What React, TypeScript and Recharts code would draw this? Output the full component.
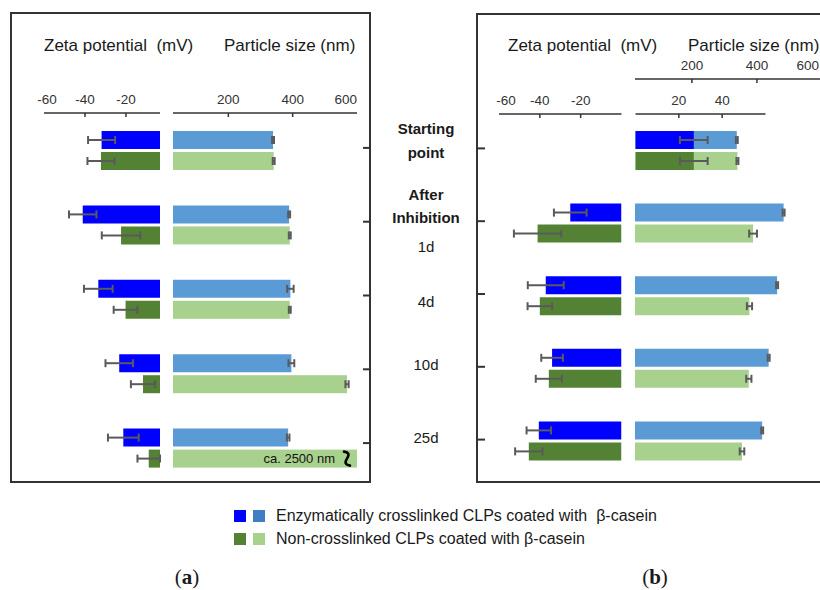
import React from "react";
import { BarChart, Bar, XAxis, YAxis, ErrorBar } from "recharts";

// ---------- data ----------
const categories = ["Starting point", "After Inhibition 1d", "4d", "10d", "25d"];

// Panel (a)
const zetaEnzA = [-31.9, -41.1, -33.5, -23.3, -21.3];
const zetaEnzErrA = [6.6, 6.7, 7.0, 6.7, 7.5];
const zetaNonA = [-32.2, -22.4, -20.2, -11.7, -8.9];
const zetaNonErrA = [6.6, 9.4, 5.8, 5.9, 5.5];
const sizeEnzA = [339, 389, 393, 396, 386];
const sizeEnzErrA = [3, 3, 10, 9, 4];
const sizeNonA = [341, 391, 391, 569, 2500];
const sizeNonErrA = [3, 3, 3, 5, 0];

// Panel (b)
const zetaEnzB = [26.9, -25.1, -37.1, -34.0, -40.5];
const zetaEnzErrB = [6.4, 8.0, 8.8, 5.3, 6.0];
const zetaNonB = [26.9, -41.1, -40.0, -35.6, -45.4];
const zetaNonErrB = [6.4, 11.6, 6.0, 6.4, 6.7];
const sizeEnzB = [338, 482, 462, 436, 416];
const sizeEnzErrB = [3, 3, 3, 3, 3];
const sizeNonB = [340, 388, 377, 375, 354];
const sizeNonErrB = [3, 12, 8, 8, 7];

const zetaTicksNeg = [-60, -40, -20];
const zetaTicksPos = [20, 40];
const sizeTicks = [200, 400, 600];

const legendItems = [
  "Enzymatically crosslinked CLPs coated with  \u03b2-casein",
  "Non-crosslinked CLPs coated with \u03b2-casein",
];

// ---------- tables ----------
const rowsA = categories.map((cat, i) => ({
  cat,
  zEnz: zetaEnzA[i],
  zEnzErr: zetaEnzErrA[i],
  zNon: zetaNonA[i],
  zNonErr: zetaNonErrA[i],
  sEnz: sizeEnzA[i],
  sEnzErr: sizeEnzErrA[i],
  sNon: sizeNonA[i],
  sNonErr: sizeNonErrA[i],
}));

const rowsB = categories.map((cat, i) => ({
  cat,
  zEnzNeg: zetaEnzB[i] < 0 ? zetaEnzB[i] : null,
  zEnzNegErr: zetaEnzB[i] < 0 ? zetaEnzErrB[i] : null,
  zNonNeg: zetaNonB[i] < 0 ? zetaNonB[i] : null,
  zNonNegErr: zetaNonB[i] < 0 ? zetaNonErrB[i] : null,
  zEnzPos: zetaEnzB[i] > 0 ? zetaEnzB[i] : null,
  zEnzPosErr: zetaEnzB[i] > 0 ? zetaEnzErrB[i] : null,
  zNonPos: zetaNonB[i] > 0 ? zetaNonB[i] : null,
  zNonPosErr: zetaNonB[i] > 0 ? zetaNonErrB[i] : null,
  sEnz: sizeEnzB[i],
  sEnzErr: sizeEnzErrB[i],
  sNon: sizeNonB[i],
  sNonErr: sizeNonErrB[i],
}));

// ---------- styles ----------
const FONT = "'Liberation Sans', Arial, sans-serif";
const C_ENZ_Z = "#0000FF";
const C_ENZ_S = "#5B9BD5";
const C_NON_Z = "#548235";
const C_NON_S = "#A9D18E";
const C_LEG_ENZ_S = "#3F7EC2";
const ERR = "#5a5a5a";
const AXIS = "#333333";

const AxisTick = (props: any) => {
  const { x, y, payload, shiftFirst, firstValue, endValue, endShift } = props;
  let tx = x;
  let anchor: any = "middle";
  let mark = true;
  if (firstValue !== undefined && payload.value === firstValue) {
    tx = x + (shiftFirst || 0);
    mark = false;
  }
  if (endValue !== undefined && payload.value === endValue) {
    anchor = "end";
    tx = x + (endShift || 0);
    mark = false;
  }
  return (
    <g>
      <text x={tx} y={y - 9} textAnchor={anchor} fontSize={13.5} fill="#333" fontFamily={FONT}>
        {payload.value}
      </text>
      {mark && <line x1={x} x2={x} y1={y} y2={y + 4} stroke={AXIS} strokeWidth={1.5} />}
    </g>
  );
};

// tick mark on the panel frame, drawn at each category position of the frame axis
const FrameTick = (props: any) => {
  const { y, frameX, dir } = props;
  return <line x1={frameX} x2={frameX + dir * 7} y1={y} y2={y} stroke="#333" strokeWidth={2} />;
};

const makeClipShape = (plotRight: number, key: string) => (props: any) => {
  const { x, y, width, height, fill, payload } = props;
  const avail = plotRight - x;
  const clipped = width > avail + 0.5;
  const w = Math.max(0, Math.min(width, avail));
  const cy = y + height / 2;
  const sx = x + w - 10;
  return (
    <g>
      <rect x={x} y={y} width={w} height={height} fill={fill} />
      {clipped && (
        <g>
          <text x={x + w - 22} y={cy} dy="0.35em" textAnchor="end" fontSize={13} fill="#111" fontFamily={FONT}>
            {`ca. ${payload[key]} nm`}
          </text>
          <path
            d={`M ${sx - 3} ${cy - 7} Q ${sx + 4} ${cy - 6} ${sx} ${cy} Q ${sx - 4} ${cy + 6} ${sx + 3} ${cy + 7}`}
            stroke="#000"
            strokeWidth={2.6}
            fill="none"
            strokeLinecap="round"
          />
        </g>
      )}
    </g>
  );
};

const errProps = { direction: "x" as const, width: 4, stroke: ERR, strokeWidth: 2 };

const Abs = ({ left, top, children }: any) => (
  <div style={{ position: "absolute", left, top }}>{children}</div>
);

const Txt = ({ x, y, w = 200, align = "left", size = 15, bold = false, children, family = FONT }: any) => {
  const lh = 22;
  let left = x;
  if (align === "center") left = x - w / 2;
  return (
    <div
      style={{
        position: "absolute",
        left,
        top: y - lh / 2,
        width: w,
        height: lh,
        lineHeight: `${lh}px`,
        textAlign: align,
        fontSize: size,
        fontWeight: bold ? 700 : 400,
        fontFamily: family,
        color: "#1a1a1a",
        whiteSpace: "pre",
      }}
    >
      {children}
    </div>
  );
};

const catLabelLines = [
  { t: "Starting", b: true, y: 129 },
  { t: "point", b: true, y: 153 },
  { t: "After", b: true, y: 195 },
  { t: "Inhibition", b: true, y: 218 },
  { t: "1d", b: false, y: 247 },
  { t: "4d", b: false, y: 302 },
  { t: "10d", b: false, y: 365 },
  { t: "25d", b: false, y: 438 },
];

const axisLineStyle = { stroke: AXIS, strokeWidth: 1.5 };

export default function App() {
  return (
    <div
      style={{
        position: "absolute",
        left: 0,
        top: 0,
        width: 820,
        height: 590,
        overflow: "hidden",
        background: "#fff",
        fontFamily: FONT,
      }}
    >
      {/* frames */}
      <div style={{ position: "absolute", left: 10, top: 12, width: 361, height: 471, border: "2px solid #333", boxSizing: "border-box" }} />
      <div style={{ position: "absolute", left: 476, top: 13, width: 400, height: 470, border: "2px solid #333", boxSizing: "border-box" }} />

      {/* frame ticks (a): category axis of the panel */}
      <Abs left={0} top={0}>
        <BarChart width={380} height={500} layout="vertical" data={rowsA} margin={{ top: 111, right: 10, bottom: 20, left: 10 }}>
          <XAxis type="number" hide domain={[0, 1]} />
          <YAxis type="category" dataKey="cat" hide={false} width={1} orientation="right" axisLine={false}
            tickLine={false} interval={0} tick={<FrameTick frameX={370} dir={-1} />} />
          <Bar dataKey="zEnz" fill="none" isAnimationActive={false} />
        </BarChart>
      </Abs>
      {/* frame ticks (b) */}
      <Abs left={0} top={0}>
        <BarChart width={820} height={500} layout="vertical" data={rowsB} margin={{ top: 112, right: 10, bottom: 24, left: 10 }}>
          <XAxis type="number" hide domain={[0, 1]} />
          <YAxis type="category" dataKey="cat" width={1} orientation="left" axisLine={false}
            tickLine={false} interval={0} tick={<FrameTick frameX={478} dir={1} />} />
          <Bar dataKey="sEnz" fill="none" isAnimationActive={false} />
        </BarChart>
      </Abs>

      {/* Panel (a) zeta */}
      <Abs left={0} top={0}>
        <BarChart width={170} height={490} layout="vertical" data={rowsA}
          margin={{ top: 0, right: 10, bottom: 5, left: 44 }} barSize={18} barGap={3}>
          <XAxis type="number" orientation="top" domain={[-60, -3.4]} allowDataOverflow ticks={zetaTicksNeg}
            height={113} tickSize={0} tickMargin={0} tickLine={false} axisLine={axisLineStyle}
            tick={<AxisTick firstValue={-60} shiftFirst={3} />} interval={0} />
          <YAxis type="category" dataKey="cat" hide />
          <Bar dataKey="zEnz" fill={C_ENZ_Z} isAnimationActive={false}>
            <ErrorBar dataKey="zEnzErr" {...errProps} />
          </Bar>
          <Bar dataKey="zNon" fill={C_NON_Z} isAnimationActive={false}>
            <ErrorBar dataKey="zNonErr" {...errProps} />
          </Bar>
        </BarChart>
      </Abs>

      {/* Panel (a) size */}
      <Abs left={0} top={0}>
        <BarChart width={370} height={490} layout="vertical" data={rowsA}
          margin={{ top: 0, right: 13, bottom: 5, left: 173 }} barSize={18} barGap={3}>
          <XAxis type="number" orientation="top" domain={[28, 600]} allowDataOverflow ticks={sizeTicks}
            height={113} tickSize={0} tickMargin={0} tickLine={false} axisLine={axisLineStyle}
            tick={<AxisTick endValue={600} />} interval={0} />
          <YAxis type="category" dataKey="cat" hide />
          <Bar dataKey="sEnz" fill={C_ENZ_S} isAnimationActive={false}>
            <ErrorBar dataKey="sEnzErr" {...errProps} />
          </Bar>
          <Bar dataKey="sNon" fill={C_NON_S} isAnimationActive={false} shape={makeClipShape(357, "sNon")}>
            <ErrorBar dataKey="sNonErr" {...errProps} />
          </Bar>
        </BarChart>
      </Abs>

      {/* Panel (b) zeta negative */}
      <Abs left={0} top={0}>
        <BarChart width={640} height={482} layout="vertical" data={rowsB}
          margin={{ top: 0, right: 18.5, bottom: 5, left: 499 }} barSize={18} barGap={3}>
          <XAxis type="number" orientation="top" domain={[-60, 0]} allowDataOverflow ticks={zetaTicksNeg}
            height={114} tickSize={0} tickMargin={0} tickLine={false} axisLine={axisLineStyle}
            tick={<AxisTick firstValue={-60} shiftFirst={7} />} interval={0} />
          <YAxis type="category" dataKey="cat" hide />
          <Bar dataKey="zEnzNeg" fill={C_ENZ_Z} isAnimationActive={false}>
            <ErrorBar dataKey="zEnzNegErr" {...errProps} />
          </Bar>
          <Bar dataKey="zNonNeg" fill={C_NON_Z} isAnimationActive={false}>
            <ErrorBar dataKey="zNonNegErr" {...errProps} />
          </Bar>
        </BarChart>
      </Abs>

      {/* Panel (b) size */}
      <Abs left={0} top={0}>
        <BarChart width={840} height={482} layout="vertical" data={rowsB}
          margin={{ top: 0, right: 18, bottom: 5, left: 635 }} barSize={18} barGap={3}>
          <XAxis type="number" orientation="top" domain={[25, 600]} allowDataOverflow ticks={sizeTicks}
            height={79} tickSize={0} tickMargin={0} tickLine={false} axisLine={axisLineStyle}
            tick={<AxisTick endValue={600} endShift={-3} />} interval={0} />
          <YAxis type="category" dataKey="cat" hide padding={{ top: 35, bottom: 0 }} />
          <Bar dataKey="sEnz" fill={C_ENZ_S} isAnimationActive={false}>
            <ErrorBar dataKey="sEnzErr" {...errProps} />
          </Bar>
          <Bar dataKey="sNon" fill={C_NON_S} isAnimationActive={false}>
            <ErrorBar dataKey="sNonErr" {...errProps} />
          </Bar>
        </BarChart>
      </Abs>

      {/* Panel (b) zeta positive (overlay) */}
      <Abs left={0} top={0}>
        <BarChart width={780} height={482} layout="vertical" data={rowsB}
          margin={{ top: 0, right: 14.5, bottom: 5, left: 635.5 }} barSize={18} barGap={3}>
          <XAxis type="number" orientation="top" domain={[0, 60]} allowDataOverflow ticks={zetaTicksPos}
            height={114} tickSize={0} tickMargin={0} tickLine={false} axisLine={axisLineStyle}
            tick={<AxisTick />} interval={0} />
          <YAxis type="category" dataKey="cat" hide />
          <Bar dataKey="zEnzPos" fill={C_ENZ_Z} isAnimationActive={false}>
            <ErrorBar dataKey="zEnzPosErr" {...errProps} />
          </Bar>
          <Bar dataKey="zNonPos" fill={C_NON_Z} isAnimationActive={false}>
            <ErrorBar dataKey="zNonPosErr" {...errProps} />
          </Bar>
        </BarChart>
      </Abs>

      {/* titles */}
      <Txt x={44} y={46} size={17}>{"Zeta potential  (mV)"}</Txt>
      <Txt x={224} y={46} size={17}>Particle size (nm)</Txt>
      <Txt x={508} y={46} size={17}>{"Zeta potential  (mV)"}</Txt>
      <Txt x={688} y={46} size={17}>Particle size (nm)</Txt>

      {/* category labels */}
      {catLabelLines.map((l, i) => (
        <Txt key={i} x={426} y={l.y} w={120} align="center" size={15} bold={l.b}>{l.t}</Txt>
      ))}

      {/* legend */}
      <div style={{ position: "absolute", left: 234, top: 510, width: 12, height: 12, background: C_ENZ_Z }} />
      <div style={{ position: "absolute", left: 253, top: 510, width: 12, height: 12, background: C_LEG_ENZ_S }} />
      <div style={{ position: "absolute", left: 234, top: 533, width: 12, height: 12, background: C_NON_Z }} />
      <div style={{ position: "absolute", left: 253, top: 533, width: 12, height: 12, background: C_NON_S }} />
      <Txt x={276} y={516} w={440} size={16}>{legendItems[0]}</Txt>
      <Txt x={276} y={539} w={440} size={16}>{legendItems[1]}</Txt>

      {/* panel letters */}
      <Txt x={187} y={577} w={60} align="center" size={21} family="'Liberation Serif', 'Times New Roman', serif">
        (<b>a</b>)
      </Txt>
      <Txt x={655} y={577} w={60} align="center" size={21} family="'Liberation Serif', 'Times New Roman', serif">
        (<b>b</b>)
      </Txt>
    </div>
  );
}
